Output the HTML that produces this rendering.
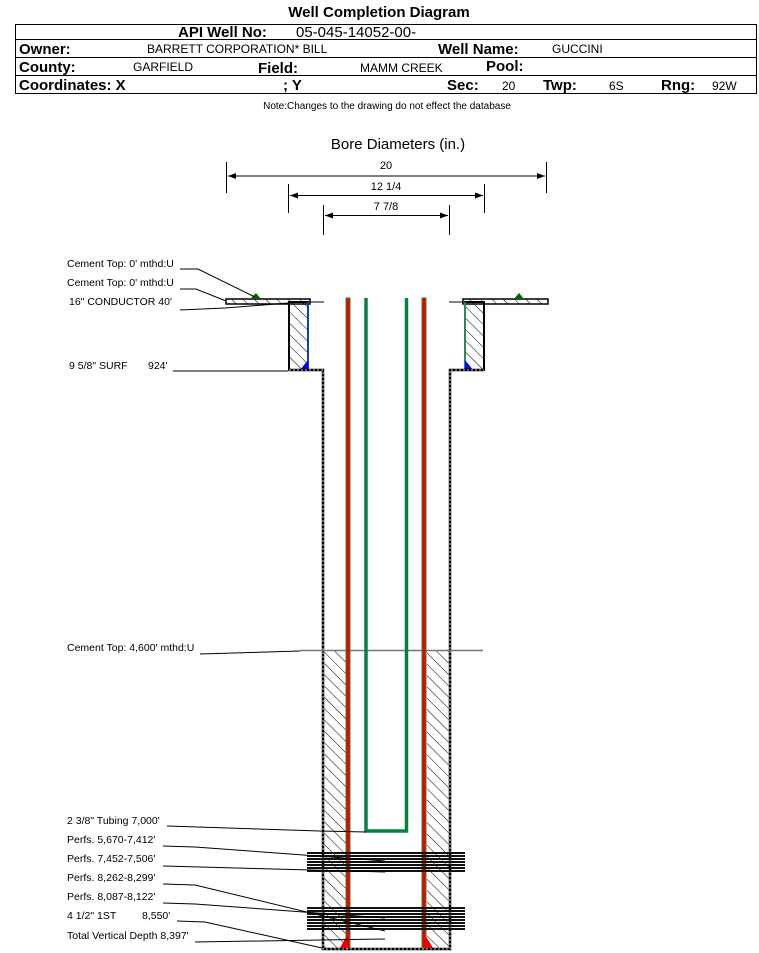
<!DOCTYPE html>
<html><head><meta charset="utf-8"><style>
body{margin:0;background:#fff;}
svg{display:block;font-family:"Liberation Sans",Arial,sans-serif;}
</style></head><body>
<svg width="759" height="953" viewBox="0 0 759 953" xmlns="http://www.w3.org/2000/svg">
<defs>
<pattern id="h" width="8" height="8" patternUnits="userSpaceOnUse" patternTransform="rotate(-45)">
<line x1="0" y1="0" x2="0" y2="8" stroke="#000" stroke-width="1"/>
</pattern>
<marker id="a" markerWidth="8" markerHeight="6" refX="8" refY="3" orient="auto-start-reverse"><path d="M0,0 L8,3 L0,6z" fill="#000"/></marker>
</defs>
<!-- header -->
<text x="379" y="17" font-size="15" font-weight="bold" text-anchor="middle">Well Completion Diagram</text>
<rect x="15.5" y="24.5" width="741" height="69" fill="none" stroke="#000"/>
<line x1="15" y1="39.5" x2="757" y2="39.5" stroke="#000"/>
<line x1="15" y1="57.5" x2="757" y2="57.5" stroke="#000"/>
<line x1="15" y1="75.5" x2="757" y2="75.5" stroke="#000"/>
<text x="178" y="37" font-size="15" font-weight="bold">API Well No:</text>
<text x="296" y="37" font-size="15">05-045-14052-00-</text>
<g font-size="15" font-weight="bold">
<text x="19" y="54">Owner:</text><text x="438" y="54">Well Name:</text>
<text x="19" y="72">County:</text><text x="258" y="73">Field:</text><text x="486" y="71">Pool:</text>
<text x="19" y="90">Coordinates: X</text><text x="283" y="90">; Y</text><text x="447" y="90">Sec:</text><text x="543" y="90">Twp:</text><text x="661" y="90">Rng:</text>
</g>
<g font-size="12">
<text x="147" y="53">BARRETT CORPORATION* BILL</text><text x="552" y="53">GUCCINI</text>
<text x="133" y="71">GARFIELD</text><text x="360" y="72">MAMM CREEK</text>
<text x="502" y="90">20</text><text x="609" y="90">6S</text><text x="712" y="90">92W</text>
</g>
<text x="387" y="109" font-size="10" text-anchor="middle">Note:Changes to the drawing do not effect the database</text>
<!-- bore diameters -->
<text x="398" y="149" font-size="15" text-anchor="middle">Bore Diameters (in.)</text>
<g stroke="#000" stroke-width="1">
<line x1="226.5" y1="162" x2="226.5" y2="193"/><line x1="546.5" y1="162" x2="546.5" y2="193"/>
<line x1="228" y1="176" x2="545" y2="176" marker-start="url(#a)" marker-end="url(#a)"/>
<line x1="288.5" y1="184" x2="288.5" y2="213"/><line x1="484.5" y1="184" x2="484.5" y2="213"/>
<line x1="290" y1="195.5" x2="483" y2="195.5" marker-start="url(#a)" marker-end="url(#a)"/>
<line x1="323.5" y1="205" x2="323.5" y2="235"/><line x1="449.5" y1="205" x2="449.5" y2="235"/>
<line x1="325" y1="215.5" x2="448" y2="215.5" marker-start="url(#a)" marker-end="url(#a)"/>
</g>
<g font-size="11" text-anchor="middle"><text x="386" y="169">20</text><text x="386" y="190">12 1/4</text><text x="386" y="210">7 7/8</text></g>
<!-- surface plates -->
<rect x="226" y="299" width="84" height="5" fill="url(#h)" stroke="#000" stroke-width="1.5"/>
<rect x="463" y="299" width="85" height="5" fill="url(#h)" stroke="#000" stroke-width="1.5"/>
<line x1="310" y1="302" x2="324" y2="302" stroke="#000"/>
<line x1="449" y1="302" x2="463" y2="302" stroke="#000"/>
<path d="M250,299 L256,293 L261,299z" fill="#060"/><path d="M514,299 L519,293 L524,299z" fill="#060"/>
<!-- conductor cement -->
<rect x="289" y="302" width="19" height="68" fill="url(#h)" stroke="#000" stroke-width="2"/>
<rect x="465" y="302" width="19" height="68" fill="url(#h)" stroke="#000" stroke-width="2"/>
<line x1="308" y1="302" x2="308" y2="370" stroke="#1040c0" stroke-width="2"/>
<line x1="465" y1="302" x2="465" y2="370" stroke="#2a8a5a" stroke-width="2"/>
<path d="M300,370 L308,360 L308,370z" fill="#00f"/><path d="M465,360 L473,370 L465,370z" fill="#00f"/>
<!-- surface casing walls -->
<g stroke="#000" stroke-width="2.5" fill="none">
<path d="M289,370 L323,370 L323,949 L450,949 L450,370 L484,370"/>
</g>
<g stroke="#fff" stroke-width="0.8" stroke-dasharray="2,2" fill="none">
<path d="M289,370 L323,370 L323,949 L450,949 L450,370 L484,370"/>
</g>
<!-- cement lower -->
<rect x="324.5" y="650" width="21.5" height="297.5" fill="url(#h)"/>
<rect x="427" y="650" width="21.5" height="297.5" fill="url(#h)"/>
<line x1="300" y1="650.5" x2="483" y2="650.5" stroke="#777" stroke-width="1.5"/>
<!-- production casing -->
<rect x="346" y="298" width="4" height="650" fill="#e00" stroke="#2a8a2a" stroke-width="1"/>
<rect x="422" y="298" width="4" height="650" fill="#e00" stroke="#2a8a2a" stroke-width="1"/>
<path d="M340,948 L347,935 L350,948z" fill="#e00"/><path d="M425,935 L433,948 L425,948z" fill="#e00"/>
<!-- tubing -->
<path d="M366,298 L366,831 L406.5,831 L406.5,298" fill="none" stroke="#0a8040" stroke-width="3.5"/>
<!-- perfs -->
<g stroke="#111" stroke-width="2">
<line x1="307" y1="853" x2="465" y2="853"/><line x1="307" y1="856" x2="465" y2="856"/><line x1="307" y1="859" x2="465" y2="859"/><line x1="307" y1="862" x2="465" y2="862"/><line x1="307" y1="865" x2="465" y2="865"/><line x1="307" y1="868" x2="465" y2="868"/><line x1="307" y1="871" x2="465" y2="871"/>
<line x1="307" y1="908" x2="465" y2="908"/><line x1="307" y1="911" x2="465" y2="911"/><line x1="307" y1="914" x2="465" y2="914"/><line x1="307" y1="917" x2="465" y2="917"/><line x1="307" y1="920" x2="465" y2="920"/><line x1="307" y1="923" x2="465" y2="923"/><line x1="307" y1="926" x2="465" y2="926"/><line x1="307" y1="929" x2="465" y2="929"/>
</g>
<!-- labels -->
<g font-size="10.5">
<text x="67" y="267">Cement Top: 0' mthd:U</text>
<text x="67" y="286">Cement Top: 0' mthd:U</text>
<text x="69" y="305">16" CONDUCTOR  40'</text>
<text x="69" y="369">9 5/8" SURF</text><text x="148" y="369">924'</text>
<text x="67" y="651">Cement Top: 4,600' mthd:U</text>
<text x="67" y="824">2 3/8" Tubing 7,000'</text>
<text x="67" y="843">Perfs. 5,670-7,412'</text>
<text x="67" y="862">Perfs. 7,452-7,506'</text>
<text x="67" y="881">Perfs. 8,262-8,299'</text>
<text x="67" y="900">Perfs. 8,087-8,122'</text>
<text x="67" y="919">4 1/2" 1ST</text><text x="142" y="919">8,550'</text>
<text x="67" y="939">Total Vertical Depth 8,397'</text>
</g>
<g stroke="#000" stroke-width="1" fill="none">
<path d="M180,269 L198,269 L255,297"/>
<path d="M180,289 L196,289 L226,301"/>
<path d="M180,310 L225,308 L288,303"/>
<path d="M173,371 L288,371"/>
<path d="M200,654 L300,651"/>
<path d="M167,826 L320,831 L366,832"/>
<path d="M163,846 L195,847 L385,861"/>
<path d="M163,866 L385,872"/>
<path d="M163,884 L195,885 L385,931"/>
<path d="M163,903 L195,904 L385,918"/>
<path d="M177,921 L205,922 L322,948"/>
<path d="M195,942 L385,939"/>
</g>
</svg>
</body></html>
